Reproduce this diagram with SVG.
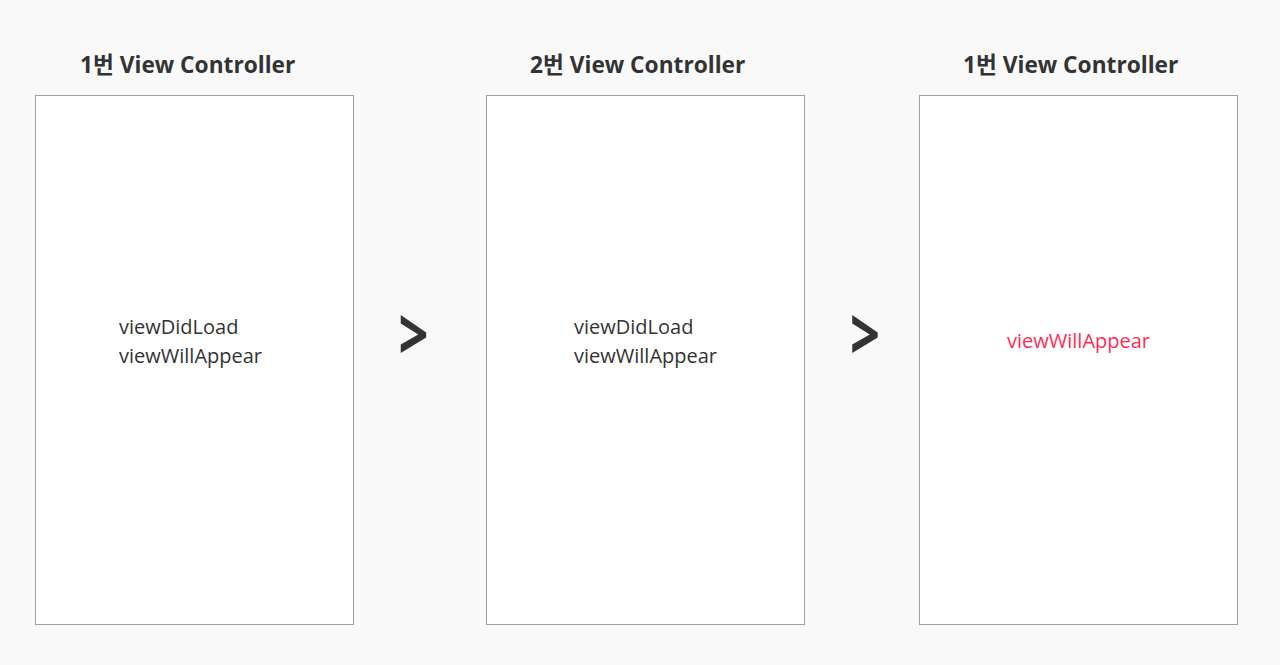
<svg xmlns="http://www.w3.org/2000/svg" width="1280" height="665" viewBox="0 0 1280 665">
  <style>
    .box { fill: #ffffff; stroke: #a0a0a0; stroke-width: 1; }
    .title { font-family: "Open Sans", "Noto Sans CJK KR", sans-serif; font-weight: bold; font-size: 22.7px; fill: #333333; }
    .body { font-family: "Open Sans", "Noto Sans", sans-serif; font-size: 20px; fill: #333333; }
    .red { fill: #ff2d55; }
    .chev { font-family: "Open Sans", "DejaVu Sans", sans-serif; font-weight: bold; font-size: 64px; fill: #333333; }
  </style>
  <rect x="0" y="0" width="1280" height="665" fill="#f9f9f9"/>
  <g id="vc1">
    <text class="title" x="80" y="73">1번 View Controller</text>
    <rect class="box" x="35.5" y="95.5" width="318" height="529"/>
    <text class="body" x="119" y="334">viewDidLoad</text>
    <text class="body" x="119" y="363">viewWillAppear</text>
  </g>
  <g id="vc2">
    <text class="title" x="530" y="73">2번 View Controller</text>
    <rect class="box" x="486.5" y="95.5" width="318" height="529"/>
    <text class="body" x="574" y="334">viewDidLoad</text>
    <text class="body" x="574" y="363">viewWillAppear</text>
  </g>
  <g id="vc3">
    <text class="title" x="963" y="73">1번 View Controller</text>
    <rect class="box" x="919.5" y="95.5" width="318" height="529"/>
    <text class="body red" x="1007" y="348">viewWillAppear</text>
  </g>
  <g id="connectors">
    <text class="chev" transform="translate(413.5,359.7) scale(0.82,1.12)" x="0" y="0" text-anchor="middle">&gt;</text>
    <text class="chev" transform="translate(865,359.7) scale(0.82,1.12)" x="0" y="0" text-anchor="middle">&gt;</text>
  </g>
</svg>
